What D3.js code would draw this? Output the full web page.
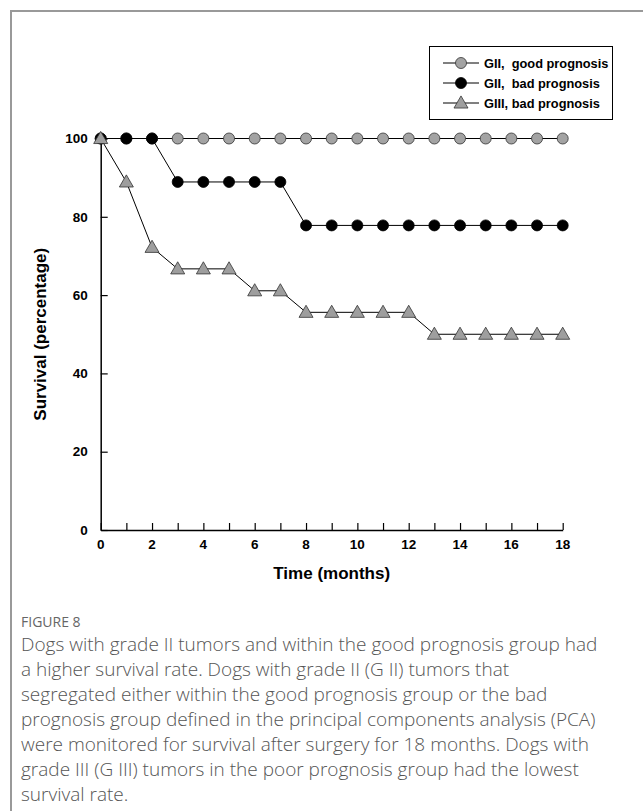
<!DOCTYPE html>
<html>
<head>
<meta charset="utf-8">
<script src="https://cdn.jsdelivr.net/npm/d3@7"></script>
<style>
  html, body { margin: 0; padding: 0; background: #fff; }
  svg { display: block; }
</style>
</head>
<body>
<svg id="chart" width="643" height="811"></svg>
<script>
"use strict";

// survival data
var months = d3.range(0, 19);
var goodGII = [100, 100, 100, 100, 100, 100, 100, 100, 100, 100, 100, 100, 100, 100, 100, 100, 100, 100, 100];
var badGII = [100, 100, 100, 88.9, 88.9, 88.9, 88.9, 88.9, 77.8, 77.8, 77.8, 77.8, 77.8, 77.8, 77.8, 77.8, 77.8, 77.8, 77.8];
var badGIII = [100, 88.9, 72.2, 66.7, 66.7, 66.7, 61.1, 61.1, 55.6, 55.6, 55.6, 55.6, 55.6, 50, 50, 50, 50, 50, 50];
var xTicks = [0, 2, 4, 6, 8, 10, 12, 14, 16, 18];
var yTicks = [0, 20, 40, 60, 80, 100];
var seriesNames = ["GII,  good prognosis", "GII,  bad prognosis", "GIII, bad prognosis"];
var captionTitle = "FIGURE 8";
var captionLines = [
    "Dogs with grade II tumors and within the good prognosis group had",
    "a higher survival rate. Dogs with grade II (G II) tumors that",
    "segregated either within the good prognosis group or the bad",
    "prognosis group defined in the principal components analysis (PCA)",
    "were monitored for survival after surgery for 18 months. Dogs with",
    "grade III (G III) tumors in the poor prognosis group had the lowest",
    "survival rate."
];

var svg = d3.select("#chart");
var axisFont = "Arial, 'Liberation Sans', sans-serif";

// outer figure frame (only top and left edges show)
svg.append("path")
    .attr("d", "M11,811 V11 H643")
    .attr("fill", "none")
    .attr("stroke", "#999")
    .attr("stroke-width", 2);

var x = d3.scaleLinear().domain([0, 18]).range([100.7, 562.7]);
var y = d3.scaleLinear().domain([0, 100]).range([530, 138.5]);

var g = svg.append("g");

// x axis, ticks point inwards
var xAxis = g.append("g")
    .attr("transform", "translate(0," + y(0) + ")")
    .call(d3.axisBottom(x).tickValues(months).tickSizeInner(-7).tickSizeOuter(0).tickFormat(""));
xAxis.select(".domain").attr("stroke", "#000").attr("stroke-width", 1.5);
xAxis.selectAll(".tick line").attr("stroke", "#000").attr("stroke-width", 1.2);

g.selectAll("text.xlab")
    .data(xTicks)
    .enter().append("text")
    .attr("class", "xlab")
    .attr("x", function (d) { return x(d); })
    .attr("y", y(0) + 19)
    .attr("text-anchor", "middle")
    .attr("font-family", axisFont)
    .attr("font-weight", "bold")
    .attr("font-size", 13.5)
    .text(function (d) { return d; });

// y axis
var yAxis = g.append("g")
    .attr("transform", "translate(" + x(0) + ",0)")
    .call(d3.axisLeft(y).tickValues(yTicks).tickSizeInner(-7).tickSizeOuter(0).tickFormat(""));
yAxis.select(".domain").attr("stroke", "#000").attr("stroke-width", 1.5);
yAxis.selectAll(".tick line").attr("stroke", "#000").attr("stroke-width", 1.2);

g.selectAll("text.ylab")
    .data(yTicks)
    .enter().append("text")
    .attr("class", "ylab")
    .attr("x", x(0) - 13)
    .attr("y", function (d) { return y(d); })
    .attr("dy", "0.35em")
    .attr("text-anchor", "end")
    .attr("font-family", axisFont)
    .attr("font-weight", "bold")
    .attr("font-size", 13.5)
    .text(function (d) { return d; });

// axis titles
g.append("text")
    .attr("x", (x(0) + x(18)) / 2)
    .attr("y", y(0) + 49)
    .attr("text-anchor", "middle")
    .attr("font-family", axisFont)
    .attr("font-weight", "bold")
    .attr("font-size", 17)
    .text("Time (months)");

g.append("text")
    .attr("transform", "translate(46," + ((y(0) + y(100)) / 2) + ") rotate(-90)")
    .attr("text-anchor", "middle")
    .attr("font-family", axisFont)
    .attr("font-weight", "bold")
    .attr("font-size", 17)
    .text("Survival (percentage)");

var line = d3.line()
    .x(function (d, i) { return x(months[i]); })
    .y(function (d) { return y(d); });

var triangle = d3.symbol().type(d3.symbolTriangle).size(85);

/**
 * Draws a marker of the given kind centred at (cx, cy) inside parent.
 */
function drawMarker(parent, kind, cx, cy) {
    if (kind === "triangle") {
        parent.append("path")
            .attr("d", triangle())
            .attr("transform", "translate(" + cx + "," + (cy + 1) + ")")
            .attr("fill", "#9e9e9e")
            .attr("stroke", "#333")
            .attr("stroke-width", 0.8);
    } else {
        parent.append("circle")
            .attr("cx", cx)
            .attr("cy", cy)
            .attr("r", 5.5)
            .attr("fill", kind === "black" ? "#000" : "#a3a3a3")
            .attr("stroke", kind === "black" ? "#000" : "#333")
            .attr("stroke-width", 0.8);
    }
}

var series = [
    { values: goodGII, kind: "gray" },
    { values: badGII, kind: "black" },
    { values: badGIII, kind: "triangle" }
];

series.forEach(function (s) {
    var sg = g.append("g");
    sg.append("path")
        .datum(s.values)
        .attr("d", line)
        .attr("fill", "none")
        .attr("stroke", "#000")
        .attr("stroke-width", 1);
    s.values.forEach(function (v, i) {
        drawMarker(sg, s.kind, x(months[i]), y(v));
    });
});

// legend
var legend = svg.append("g");
legend.append("rect")
    .attr("x", 429.5)
    .attr("y", 46.5)
    .attr("width", 183)
    .attr("height", 73)
    .attr("fill", "#fff")
    .attr("stroke", "#000")
    .attr("stroke-width", 1);

series.forEach(function (s, i) {
    var cy = 63 + i * 20;
    legend.append("line")
        .attr("x1", 443).attr("x2", 479)
        .attr("y1", cy).attr("y2", cy)
        .attr("stroke", "#000")
        .attr("stroke-width", 1);
    drawMarker(legend, s.kind, 461, cy);
    legend.append("text")
        .attr("x", 484)
        .attr("y", cy)
        .attr("dy", "0.36em")
        .attr("font-family", axisFont)
        .attr("font-weight", "bold")
        .attr("font-size", 12.8)
        .style("white-space", "pre")
        .text(seriesNames[i]);
});

// caption
var cap = svg.append("g");
cap.append("text")
    .attr("x", 21)
    .attr("y", 627)
    .attr("font-family", "'Open Sans', sans-serif")
    .attr("font-size", 14)
    .attr("fill", "#666")
    .text(captionTitle);

cap.selectAll("text.line")
    .data(captionLines)
    .enter().append("text")
    .attr("class", "line")
    .attr("x", 21)
    .attr("y", function (d, i) { return 651 + i * 25; })
    .attr("font-family", "'Open Sans', sans-serif")
    .attr("font-weight", 300)
    .attr("font-size", 19)
    .attr("fill", "#555")
    .text(function (d) { return d; });
</script>
</body>
</html>
